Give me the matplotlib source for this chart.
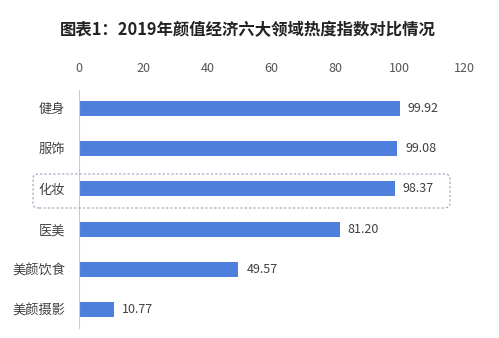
import matplotlib.pyplot as plt
from matplotlib.patches import FancyBboxPatch

plt.rcParams['font.family'] = ['Noto Sans CJK SC', 'DejaVu Sans']

categories = ['健身', '服饰', '化妆', '医美', '美颜饮食', '美颜摄影']
values = [99.92, 99.08, 98.37, 81.20, 49.57, 10.77]
xticks = [0, 20, 40, 60, 80, 100, 120]

W, H = 499, 338
fig = plt.figure(figsize=(W / 100, H / 100), dpi=100)
ax = fig.add_axes([79 / W, 1 - 328 / H, (464 - 79) / W, (328 - 90) / H])

ypos = list(range(len(categories)))
ax.barh(ypos, values, height=0.37, color='#4F7FDC')
for y, v in zip(ypos, values):
    ax.annotate(f'{v:.2f}', (v, y), xytext=(6, 0), textcoords='offset points',
                va='center', ha='left', fontsize=9, color='#404040')

ax.set_xlim(0, 120)
ax.set_ylim(5.45, -0.45)
ax.set_xticks(xticks)
ax.xaxis.tick_top()
ax.set_yticks(ypos)
ax.set_yticklabels(categories)
ax.tick_params(axis='x', length=0, pad=11, labelsize=9, labelcolor='#555555')
ax.tick_params(axis='y', length=0, pad=10, labelsize=9.5, labelcolor='#404040')
for s in ['top', 'right', 'bottom']:
    ax.spines[s].set_visible(False)
ax.spines['left'].set_color('#cccccc')

# dashed highlight around 化妆
box = FancyBboxPatch((33 / W, 1 - 208 / H), (450 - 33) / W, (208 - 174) / H,
                     boxstyle='round,pad=0,rounding_size=0.012',
                     transform=fig.transFigure, fill=False,
                     edgecolor='#8C9BB5', linestyle=(0, (2.5, 2)), linewidth=0.7)
fig.patches.append(box)

fig.text(248 / W, 1 - 30 / H, '图表1：2019年颜值经济六大领域热度指数对比情况',
         ha='center', va='center', fontsize=11.8, fontweight='bold', color='#222222')

fig.savefig('out.png', dpi=100)
